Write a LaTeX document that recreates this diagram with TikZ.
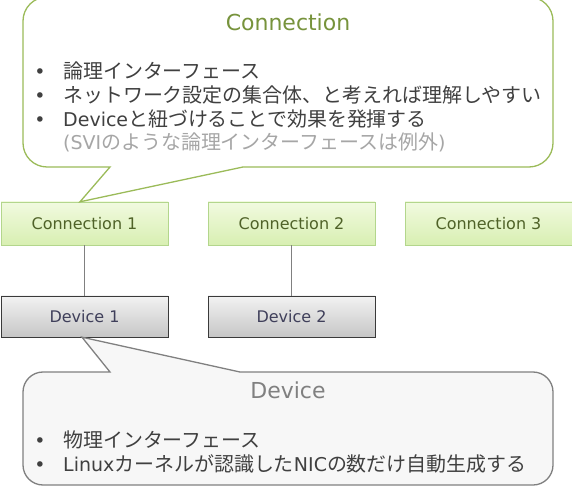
\documentclass[tikz,border=0pt]{standalone}
\usepackage{fontspec}
\setmainfont{DejaVu Sans}
\newfontfamily\jp[Scale=1.05]{Noto Sans CJK JP}
\definecolor{conntop}{HTML}{F1FADF}
\definecolor{connbot}{HTML}{D8EFB2}
\definecolor{connedge}{HTML}{B3D68C}
\definecolor{conntext}{HTML}{4F6228}
\definecolor{devtop}{HTML}{F2F2F2}
\definecolor{devbot}{HTML}{C6C6C6}
\definecolor{devedge}{HTML}{3A3A3A}
\definecolor{devtext}{HTML}{3F3F5A}
\definecolor{callgreen}{HTML}{9BBB59}
\definecolor{titlegreen}{HTML}{77933C}
\definecolor{callgray}{HTML}{808080}
\definecolor{bodytext}{HTML}{404040}
\definecolor{notetext}{HTML}{A6A6A6}

\begin{document}
\begin{tikzpicture}[x=1pt,y=1pt,
   connbox/.style={draw=connedge, top color=conntop, bottom color=connbot,
      minimum width=167pt, minimum height=43pt, text=conntext,
      font=\fontsize{16}{19}\selectfont},
   devbox/.style={draw=devedge, top color=devtop, bottom color=devbot,
      minimum width=167pt, minimum height=41pt, text=devtext,
      font=\fontsize{16}{19}\selectfont},
   link/.style={draw=callgray, thin},
   calltitle/.style={font=\fontsize{22}{26}\selectfont},
   dot/.style={anchor=base, inner sep=0pt, text=bodytext,
      font=\fontsize{19}{23}\selectfont},
   item/.style={anchor=base west, inner sep=0pt, text=bodytext,
      font=\fontsize{19}{23}\selectfont}]
   % Picture size
   \useasboundingbox (0,0) rectangle (572,490);
   % Connections
   \node[connbox] (conn1) at (84.5,266.5) {Connection 1};
   \node[connbox] (conn2) at (291.5,266.5) {Connection 2};
   \node[connbox] (conn3) at (488.5,266.5) {Connection 3};
   % Devices
   \node[devbox] (dev1) at (84.5,173.5) {Device 1};
   \node[devbox] (dev2) at (291.5,173.5) {Device 2};
   \draw[link] (conn1) -- (dev1);
   \draw[link] (conn2) -- (dev2);
   % Connection callout
   \coordinate (ctip) at ([xshift=-4.5pt]conn1.north);
   \draw[callgreen, line width=1.3pt, fill=white] (110,323) -- (ctip) -- (243,323)
      -- (529,323) arc[start angle=-90, end angle=0, radius=24]
      -- (553,469) arc[start angle=0, end angle=90, radius=24]
      -- (47,493) arc[start angle=90, end angle=180, radius=24]
      -- (23,347) arc[start angle=180, end angle=270, radius=24] -- cycle;
   \node[calltitle, text=titlegreen] (ctitle) at (288,468) {Connection};
   \node[dot] (cdot1) at (40,411) {•};
   \node[item] (citem1) at (63,411) {\jp 論理インターフェース};
   \node[dot] (cdot2) at (40,387) {•};
   \node[item] (citem2) at (63,387) {\jp ネットワーク設定の集合体、と考えれば理解しやすい};
   \node[dot] (cdot3) at (40,363) {•};
   \node[item] (citem3) at (63,363) {Device{\jp と紐づけることで効果を発揮する}};
   \node[item, text=notetext] (cnote) at (63,340) {({SVI}{\jp のような論理インターフェースは例外})};
   % Device callout
   \coordinate (dtip) at ([xshift=-2.5pt]dev1.south);
   \draw[callgray, line width=1.3pt, fill=black!3] (110,118) -- (dtip) -- (240,118)
      -- (533,118) arc[start angle=90, end angle=0, radius=20]
      -- (553,25) arc[start angle=0, end angle=-90, radius=20]
      -- (43,5) arc[start angle=270, end angle=180, radius=20]
      -- (23,98) arc[start angle=180, end angle=90, radius=20] -- cycle;
   \node[calltitle, text=callgray] (dtitle) at (288,100) {Device};
   \node[dot] (ddot1) at (40,43) {•};
   \node[item] (ditem1) at (63,43) {\jp 物理インターフェース};
   \node[dot] (ddot2) at (40,19) {•};
   \node[item] (ditem2) at (63,19) {Linux{\jp カーネルが認識した}NIC{\jp の数だけ自動生成する}};
\end{tikzpicture}
\end{document}
